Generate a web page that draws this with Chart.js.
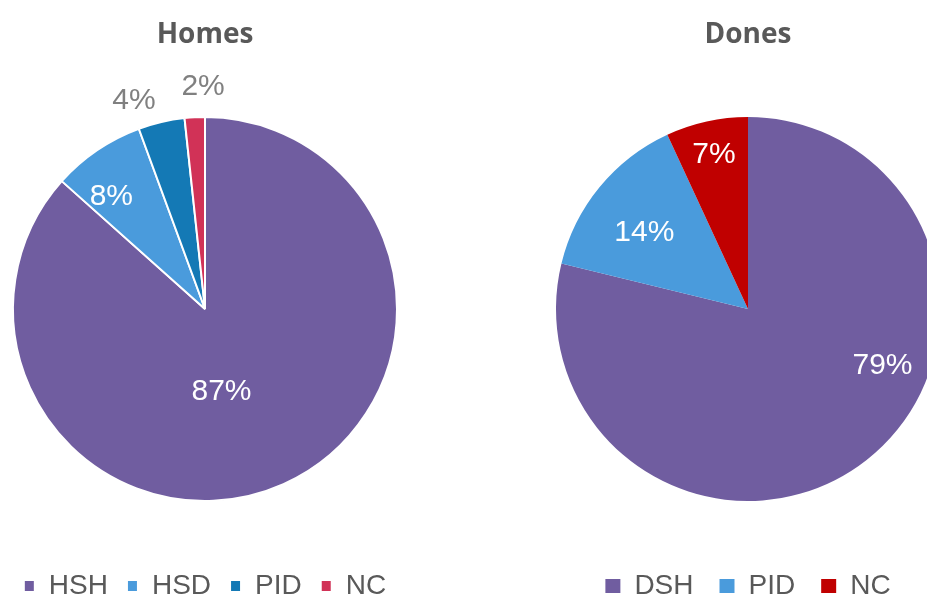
<!DOCTYPE html>
<html>
<head>
<meta charset="utf-8">
<script src="https://cdn.jsdelivr.net/npm/chart.js@4"></script>
<style>
  html, body { margin: 0; padding: 0; background: #fff; overflow: hidden; width: 927px; height: 597px; }
  .box { position: absolute; top: 0; width: 410px; height: 610px; }
  #homesBox { left: 0px; }
  #donesBox { left: 543px; }
</style>
</head>
<body>
<div class="box" id="homesBox"><canvas id="homesChart"></canvas></div>
<div class="box" id="donesBox"><canvas id="donesChart"></canvas></div>
<script>
// Homes
const homesLabels = ['HSH', 'HSD', 'PID', 'NC'];
const homesValues = [86.6, 7.8, 3.9, 1.7];
const homesColors = ['#705DA0', '#4A9BDC', '#1479B5', '#D13257'];

// Dones
const donesLabels = ['DSH', 'PID', 'NC'];
const donesValues = [78.8, 14.3, 6.9];
const donesColors = ['#705DA0', '#4A9BDC', '#C00000'];

// etiquetes de percentatge dibuixades sobre cada porció
const pieLabels = {
    id: 'pieLabels',
    afterDatasetsDraw(chart, args, opts) {
        const ctx = chart.ctx;
        const meta = chart.getDatasetMeta(0);
        const values = chart.data.datasets[0].data;
        const total = values.reduce((a, b) => a + b, 0);
        ctx.save();
        ctx.font = '30px "Liberation Sans", Arial, sans-serif';
        ctx.textAlign = 'center';
        ctx.textBaseline = 'middle';
        meta.data.forEach((arc, i) => {
            const p = arc.getProps(['x', 'y', 'startAngle', 'endAngle', 'outerRadius'], true);
            const mid = (p.startAngle + p.endAngle) / 2;
            const [f, dx, dy] = opts.place[i];
            ctx.fillStyle = f > 1 ? '#808080' : '#FFFFFF';
            const txt = Math.round(values[i] * 100 / total) + '%';
            ctx.fillText(txt, p.x + Math.cos(mid) * p.outerRadius * f + dx, p.y + Math.sin(mid) * p.outerRadius * f + dy);
        });
        ctx.restore();
    }
};

function makePie(id, title, labels, values, colors, border, place, box) {
    return new Chart(document.getElementById(id), {
        type: 'pie',
        data: {
            labels: labels,
            datasets: [{
                data: values,
                backgroundColor: colors,
                borderColor: '#FFFFFF',
                borderWidth: border,
                radius: 192
            }]
        },
        options: {
            responsive: true,
            maintainAspectRatio: false,
            animation: false,
            layout: { padding: 0 },
            plugins: {
                title: {
                    display: true,
                    text: title,
                    color: '#595959',
                    font: { family: '"Open Sans", sans-serif', size: 28, weight: 'bold' },
                    // compensa l'alçada de la llegenda perquè el pastís quedi a la mateixa altura
                    padding: { top: 18, bottom: box[2] - 5.6 }
                },
                legend: {
                    position: 'bottom',
                    labels: {
                        color: '#595959',
                        font: { family: '"Liberation Sans", Arial, sans-serif', size: 28 },
                        boxWidth: box[0],
                        boxHeight: box[1],
                        padding: box[2]
                    }
                },
                tooltip: { enabled: false },
                pieLabels: { place: place }
            }
        },
        plugins: [pieLabels]
    });
}

makePie('homesChart', 'Homes', homesLabels, homesValues, homesColors, 2,
    [[0.44, -18, 6], [0.766, -11, 9], [1.146, -21, 6], [1.16, 10, 0]], [11, 12, 19]);
makePie('donesChart', 'Dones', donesLabels, donesValues, donesColors, 0,
    [[0.763, 44, -58], [0.672, -4, 6], [0.823, 0, 0]], [15, 14, 26]);
</script>
</body>
</html>
